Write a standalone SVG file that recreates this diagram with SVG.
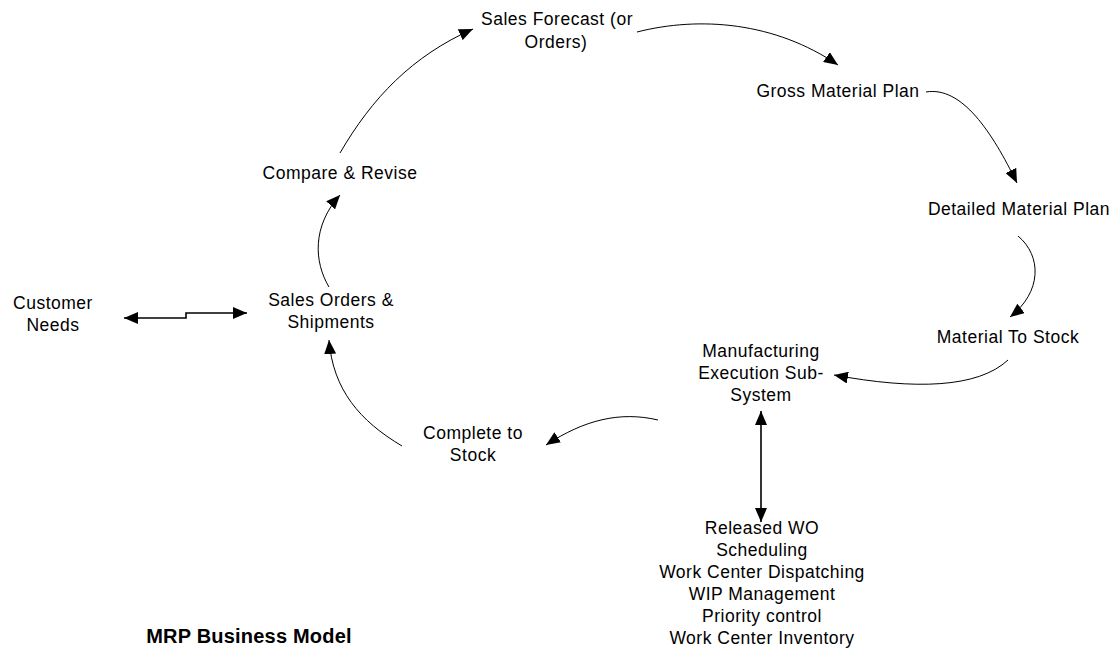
<svg xmlns="http://www.w3.org/2000/svg" width="1112" height="650" viewBox="0 0 1112 650">
  <style>
    .lbl { font-family: "Liberation Sans", Arial, sans-serif; font-size: 17.5px; letter-spacing: 0.5px; fill: #000; text-anchor: middle; }
    .title { font-family: "Liberation Sans", Arial, sans-serif; font-size: 20px; letter-spacing: 0.2px; font-weight: bold; fill: #000; text-anchor: middle; }
    .flow { fill: none; stroke: #000; stroke-width: 1; }
    .link { fill: none; stroke: #000; stroke-width: 1.6; }
  </style>
  <defs>
    <marker id="head" viewBox="0 0 14 12" refX="14" refY="6" markerWidth="14" markerHeight="12" markerUnits="userSpaceOnUse" orient="auto">
      <path d="M0,0 L14,6 L0,12 Z" fill="#000"/>
    </marker>
    <marker id="tail" viewBox="0 0 14 12" refX="0" refY="6" markerWidth="14" markerHeight="12" markerUnits="userSpaceOnUse" orient="auto">
      <path d="M14,0 L0,6 L14,12 Z" fill="#000"/>
    </marker>
  </defs>

  <rect width="1112" height="650" fill="#fff"/>

  <!-- connectors -->
  <g id="connectors">
    <path class="link" d="M124,318 H186 V313 H247" marker-start="url(#tail)" marker-end="url(#head)"/>
    <path class="flow" d="M329,287 C314,262 312,226 340,195" marker-end="url(#head)"/>
    <path class="flow" d="M340,153 C372,98 412,56 473,29" marker-end="url(#head)"/>
    <path class="flow" d="M637,32 C700,16 775,22 838,65" marker-end="url(#head)"/>
    <path class="flow" d="M926,92 C962,86 992,132 1017,183" marker-end="url(#head)"/>
    <path class="flow" d="M1018,236 C1042,256 1042,292 1010,317" marker-end="url(#head)"/>
    <path class="flow" d="M1008,360 C978,388 915,390 834,375" marker-end="url(#head)"/>
    <path class="link" d="M761,411 V522" marker-start="url(#tail)" marker-end="url(#head)"/>
    <path class="flow" d="M658,420 C620,411 584,420 546,445" marker-end="url(#head)"/>
    <path class="flow" d="M402,446 C360,421 333,390 329,340" marker-end="url(#head)"/>
  </g>

  <!-- nodes -->
  <g id="sales-forecast">
    <text class="lbl" x="557" y="25">Sales Forecast (or</text>
    <text class="lbl" x="556" y="48">Orders)</text>
  </g>
  <g id="gross-material-plan">
    <text class="lbl" x="838" y="97">Gross Material Plan</text>
  </g>
  <g id="detailed-material-plan">
    <text class="lbl" x="1019" y="215">Detailed Material Plan</text>
  </g>
  <g id="material-to-stock">
    <text class="lbl" x="1008" y="343">Material To Stock</text>
  </g>
  <g id="manufacturing-execution">
    <text class="lbl" x="761" y="357">Manufacturing</text>
    <text class="lbl" x="761" y="379">Execution Sub-</text>
    <text class="lbl" x="761" y="401">System</text>
  </g>
  <g id="shop-floor-control">
    <text class="lbl" x="762" y="534">Released WO</text>
    <text class="lbl" x="762" y="556">Scheduling</text>
    <text class="lbl" x="762" y="578">Work Center Dispatching</text>
    <text class="lbl" x="762" y="600">WIP Management</text>
    <text class="lbl" x="762" y="622">Priority control</text>
    <text class="lbl" x="762" y="644">Work Center Inventory</text>
  </g>
  <g id="complete-to-stock">
    <text class="lbl" x="473" y="439">Complete to</text>
    <text class="lbl" x="473" y="461">Stock</text>
  </g>
  <g id="sales-orders">
    <text class="lbl" x="331" y="306">Sales Orders &amp;</text>
    <text class="lbl" x="331" y="328">Shipments</text>
  </g>
  <g id="customer-needs">
    <text class="lbl" x="53" y="309">Customer</text>
    <text class="lbl" x="53" y="331">Needs</text>
  </g>
  <g id="compare-revise">
    <text class="lbl" x="340" y="179">Compare &amp; Revise</text>
  </g>

  <g id="title">
    <text class="title" x="249" y="643">MRP Business Model</text>
  </g>
</svg>
